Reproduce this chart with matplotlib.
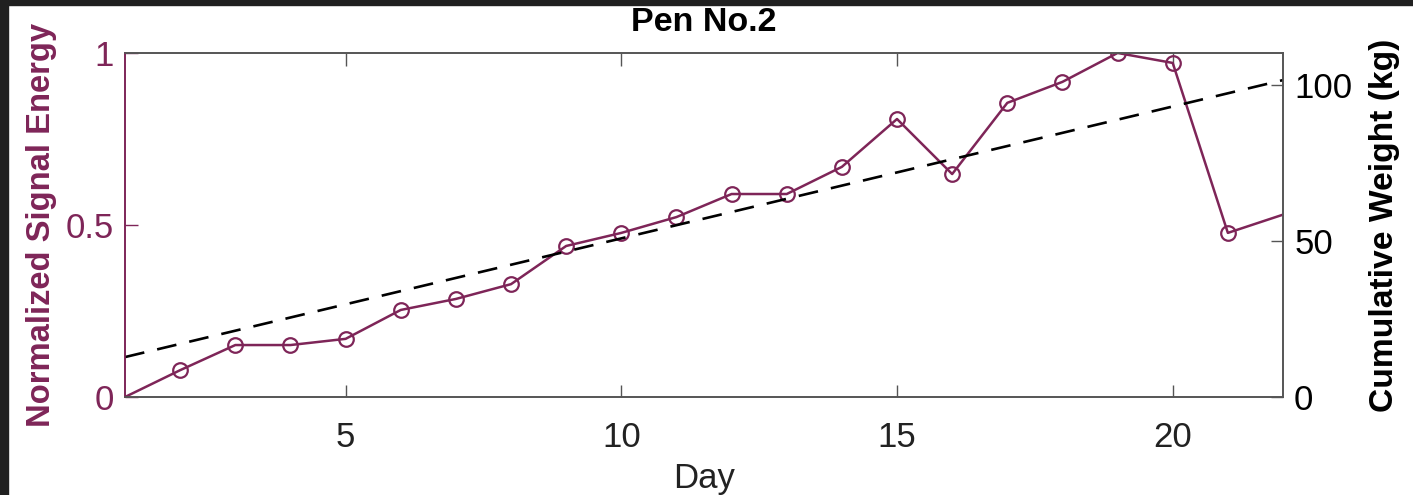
import numpy as np
import matplotlib
matplotlib.use('Agg')
import matplotlib.pyplot as plt
from matplotlib.patches import Rectangle

plt.rcParams['font.family'] = ['Liberation Sans', 'DejaVu Sans']

# data
days = [1, 2, 3, 4, 5, 6, 7, 8, 9, 10, 11, 12, 13, 14, 15, 16, 17, 18, 19, 20, 21, 22]
energy = [0.0, 0.078, 0.151, 0.151, 0.169, 0.253, 0.285, 0.328, 0.439, 0.477,
          0.523, 0.590, 0.590, 0.669, 0.808, 0.648, 0.855, 0.916, 1.0, 0.971,
          0.477, 0.53]
weight_days = [1, 22]
weight = [12.8, 101.6]

purple = '#7E2558'
frame = '#555555'

fig = plt.figure(figsize=(14.13, 4.95), dpi=100)
# dark screenshot border on top and left
fig.patches.append(Rectangle((0, 1 - 5 / 495), 1, 5 / 495, transform=fig.transFigure,
                             color='#202020', zorder=0))
fig.patches.append(Rectangle((0, 0), 8 / 1413, 1, transform=fig.transFigure,
                             color='#202020', zorder=0))

ax = fig.add_axes([0.0885, 0.198, 0.8195, 0.695])
ax2 = ax.twinx()

ax.plot(days, energy, color=purple, lw=1.8, marker='o', ms=10.5, mfc='none',
        mec=purple, mew=1.6, markevery=list(range(1, len(days) - 1)))
ax2.plot(weight_days, weight, color='black', lw=1.9, ls=(0, (7.5, 5)))

ax.set_xlim(1, 22)
ax.set_ylim(0, 1)
ax2.set_ylim(0, 110.3)
ax.set_xticks([5, 10, 15, 20])
ax.set_yticks([0, 0.5, 1])
ax.set_yticklabels(['0', '0.5', '1'])
ax2.set_yticks([0, 50, 100])

ax.tick_params(axis='x', direction='in', length=9, width=1, top=True, colors=frame,
               labelcolor='#222222', labelsize=25, pad=17)
ax.tick_params(axis='y', direction='in', length=9, width=1, colors=purple,
               labelsize=25, pad=8)
ax2.tick_params(axis='y', direction='in', length=9, width=1, colors=frame,
                labelcolor='black', labelsize=25, pad=8)

for a in (ax, ax2):
    for s in a.spines.values():
        s.set_color(frame)
        s.set_linewidth(1.2)
ax.spines['left'].set_color(purple)
ax2.spines['left'].set_color(purple)

ax.set_xlabel('Day', fontsize=25, color='#222222', labelpad=6)
ax.set_ylabel('Normalized Signal Energy', fontsize=23.6, fontweight='bold', color=purple, labelpad=6)
ax2.set_ylabel('Cumulative Weight (kg)', fontsize=24.2, fontweight='bold', color='black', labelpad=12)
ax.set_title('Pen No.2', fontsize=24.5, fontweight='bold', pad=16)

fig.savefig('out.png', dpi=100, facecolor='white')
